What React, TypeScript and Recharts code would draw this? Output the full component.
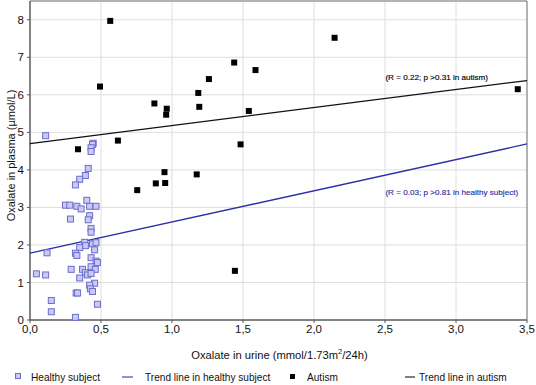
import {
  ScatterChart,
  Scatter,
  XAxis,
  YAxis,
  CartesianGrid,
  ReferenceArea,
  ReferenceDot,
  Label,
} from "recharts";

// Healthy subjects: urine oxalate (mmol/1.73m2/24h) vs plasma oxalate (µmol/L)
const healthyUrine = [
  0.11, 0.445, 0.44, 0.43, 0.43, 0.41, 0.39, 0.35, 0.32, 0.4, 0.25, 0.28, 0.33,
  0.36, 0.42, 0.465, 0.42, 0.285, 0.41, 0.43, 0.43, 0.385, 0.39, 0.35, 0.44,
  0.465, 0.12, 0.32, 0.33, 0.455, 0.43, 0.465, 0.475, 0.43, 0.46, 0.29, 0.37,
  0.39, 0.405, 0.43, 0.045, 0.11, 0.35, 0.455, 0.42, 0.425, 0.44, 0.325, 0.335,
  0.15, 0.475, 0.15, 0.32,
];
const healthyPlasma = [
  4.91, 4.71, 4.68, 4.59, 4.49, 4.04, 3.85, 3.75, 3.6, 3.19, 3.06, 3.06, 3.03,
  2.96, 3.03, 3.03, 2.78, 2.69, 2.67, 2.44, 2.34, 2.07, 1.98, 1.93, 2.03, 2.06,
  1.79, 1.78, 1.72, 1.87, 1.66, 1.57, 1.53, 1.42, 1.35, 1.35, 1.35, 1.26, 1.2,
  1.24, 1.23, 1.2, 1.12, 0.98, 0.93, 0.83, 0.76, 0.72, 0.72, 0.52, 0.42, 0.22,
  0.07,
];

// Autism group
const autismUrine = [
  0.565, 2.145, 0.493, 1.438, 1.588, 1.26, 1.185, 0.876, 0.963, 1.192, 0.959,
  1.541, 0.619, 1.483, 0.947, 1.174, 0.886, 0.952, 0.755, 0.338, 1.443, 3.435,
];
const autismPlasma = [
  7.97, 7.52, 6.22, 6.86, 6.66, 6.42, 6.05, 5.77, 5.63, 5.68, 5.47, 5.57, 4.78,
  4.68, 3.94, 3.88, 3.64, 3.65, 3.46, 4.55, 1.31, 6.15,
];

// Trend line end points
const trendX = [0, 3.5];
const trendHealthyY = [1.78, 4.69];
const trendAutismY = [4.7, 6.38];

const xTicks = [0, 0.5, 1, 1.5, 2, 2.5, 3, 3.5];
const yTicks = [0, 1, 2, 3, 4, 5, 6, 7, 8];

const healthyData = healthyUrine.map((x, i) => ({ x, y: healthyPlasma[i] }));
const autismData = autismUrine.map((x, i) => ({ x, y: autismPlasma[i] }));
const healthyTrend = trendX.map((x, i) => ({ x, y: trendHealthyY[i] }));
const autismTrend = trendX.map((x, i) => ({ x, y: trendAutismY[i] }));

const FONT = "'Liberation Sans', Arial, sans-serif";
const BLUE = "#2e2ea6";

const HealthySquare = (props: any) => (
  <rect x={props.cx - 3} y={props.cy - 3} width={6} height={6} fill="#c9c9f2" stroke="#6c6cd0" strokeWidth={1} />
);
const AutismSquare = (props: any) => (
  <rect x={props.cx - 3} y={props.cy - 3} width={6} height={6} fill="#000" />
);
const NoDot = () => <g />;

// legend layout (marker x, text x)
const legendItems = [
  { label: "Healthy subject", kind: "hsq", x: 15, tx: 31 },
  { label: "Trend line in healthy subject", kind: "bline", x: 122, tx: 145 },
  { label: "Autism", kind: "asq", x: 290, tx: 307 },
  { label: "Trend line in autism", kind: "kline", x: 405, tx: 419 },
];

function ChartLegend() {
  return (
    <svg width={536} height={18} style={{ display: "block" }}>
      {legendItems.map((it) => (
        <g key={it.label}>
          {it.kind === "hsq" && <rect x={it.x + 0.5} y={5.5} width={5} height={5} fill="#c9c9f2" stroke="#6c6cd0" />}
          {it.kind === "asq" && <rect x={it.x} y={6} width={5} height={5} fill="#000" />}
          {it.kind === "bline" && <line x1={it.x} x2={it.x + 11} y1={9} y2={9} stroke="#6a6ad8" strokeWidth={1.5} />}
          {it.kind === "kline" && <line x1={it.x} x2={it.x + 10} y1={9} y2={9} stroke="#000" strokeWidth={1} />}
          <text x={it.tx} y={12.5} fontSize={10.1} fontFamily={FONT} fill="#111">
            {it.label}
          </text>
        </g>
      ))}
    </svg>
  );
}

const fmt = (v: number) => v.toFixed(1).replace(".", ",");

export default function App() {
  return (
    <div style={{ position: "absolute", left: 0, top: 0, width: 536, height: 385, background: "#fff" }}>
      <ScatterChart width={536} height={385} margin={{ top: 1, right: 9, left: 0, bottom: 21 }}>
        <CartesianGrid stroke="#dedede" strokeWidth={1} />
        <XAxis
          type="number"
          dataKey="x"
          domain={[0, 3.5]}
          ticks={xTicks}
          tickFormatter={fmt}
          height={44}
          stroke="#555"
          tickSize={3}
          tick={{ fontSize: 11.5, fontFamily: FONT, fill: "#111" }}
          interval={0}
        >
          <Label
            content={({ viewBox }: any) => (
              <text
                x={viewBox.x + viewBox.width / 2 + 1}
                y={viewBox.y + 39}
                textAnchor="middle"
                fontSize={11.2}
                fontFamily={FONT}
                fill="#111"
              >
                Oxalate in urine (mmol/1.73m
                <tspan dy={-5} fontSize={7.5}>2</tspan>
                <tspan dy={5}>/24h)</tspan>
              </text>
            )}
          />
        </XAxis>
        <YAxis
          type="number"
          dataKey="y"
          domain={[0, 8.5]}
          ticks={yTicks}
          width={30}
          stroke="#555"
          tickSize={3}
          tickMargin={3}
          tick={{ fontSize: 11.5, fontFamily: FONT, fill: "#111" }}
          interval={0}
        >
          <Label
            content={({ viewBox }: any) => {
              const cx = viewBox.x + 11;
              const cy = viewBox.y + viewBox.height / 2 - 5;
              return (
                <text
                  x={cx}
                  y={cy}
                  transform={`rotate(-90 ${cx} ${cy})`}
                  textAnchor="middle"
                  dominantBaseline="central"
                  fontSize={11}
                  fontFamily={FONT}
                  fill="#111"
                >
                  Oxalate in plasma (µmol/L)
                </text>
              );
            }}
          />
        </YAxis>
        <ReferenceArea x1={0} x2={3.5} y1={0} y2={8.5} fill="none" stroke="#777" strokeWidth={1} ifOverflow="visible" />
        <Scatter
          name="Trend line in autism"
          data={autismTrend}
          line={{ stroke: "#111", strokeWidth: 1.2 }}
          shape={NoDot}
          isAnimationActive={false}
        />
        <Scatter
          name="Trend line in healthy subject"
          data={healthyTrend}
          line={{ stroke: BLUE, strokeWidth: 1.3 }}
          shape={NoDot}
          isAnimationActive={false}
        />
        <Scatter name="Healthy subject" data={healthyData} shape={HealthySquare} isAnimationActive={false} />
        <Scatter name="Autism" data={autismData} shape={AutismSquare} isAnimationActive={false} />
        <ReferenceDot
          x={2.503}
          y={6.45}
          r={0}
          ifOverflow="visible"
          label={({ viewBox }: any) => (
            <text x={viewBox.x} y={viewBox.y} dominantBaseline="central" fontSize={8.1} fontFamily={FONT} fill="#000" stroke="#000" strokeWidth={0.15}>
              (R = 0.22; p &gt;0.31 in autism)
            </text>
          )}
        />
        <ReferenceDot
          x={2.503}
          y={3.41}
          r={0}
          ifOverflow="visible"
          label={({ viewBox }: any) => (
            <text x={viewBox.x} y={viewBox.y} dominantBaseline="central" fontSize={8.1} fontFamily={FONT} fill={BLUE} stroke={BLUE} strokeWidth={0.15}>
              (R = 0.03; p &gt;0.81 in healthy subject)
            </text>
          )}
        />
      </ScatterChart>
      <div style={{ position: "absolute", left: 0, top: 368 }}>
        <ChartLegend />
      </div>
    </div>
  );
}
